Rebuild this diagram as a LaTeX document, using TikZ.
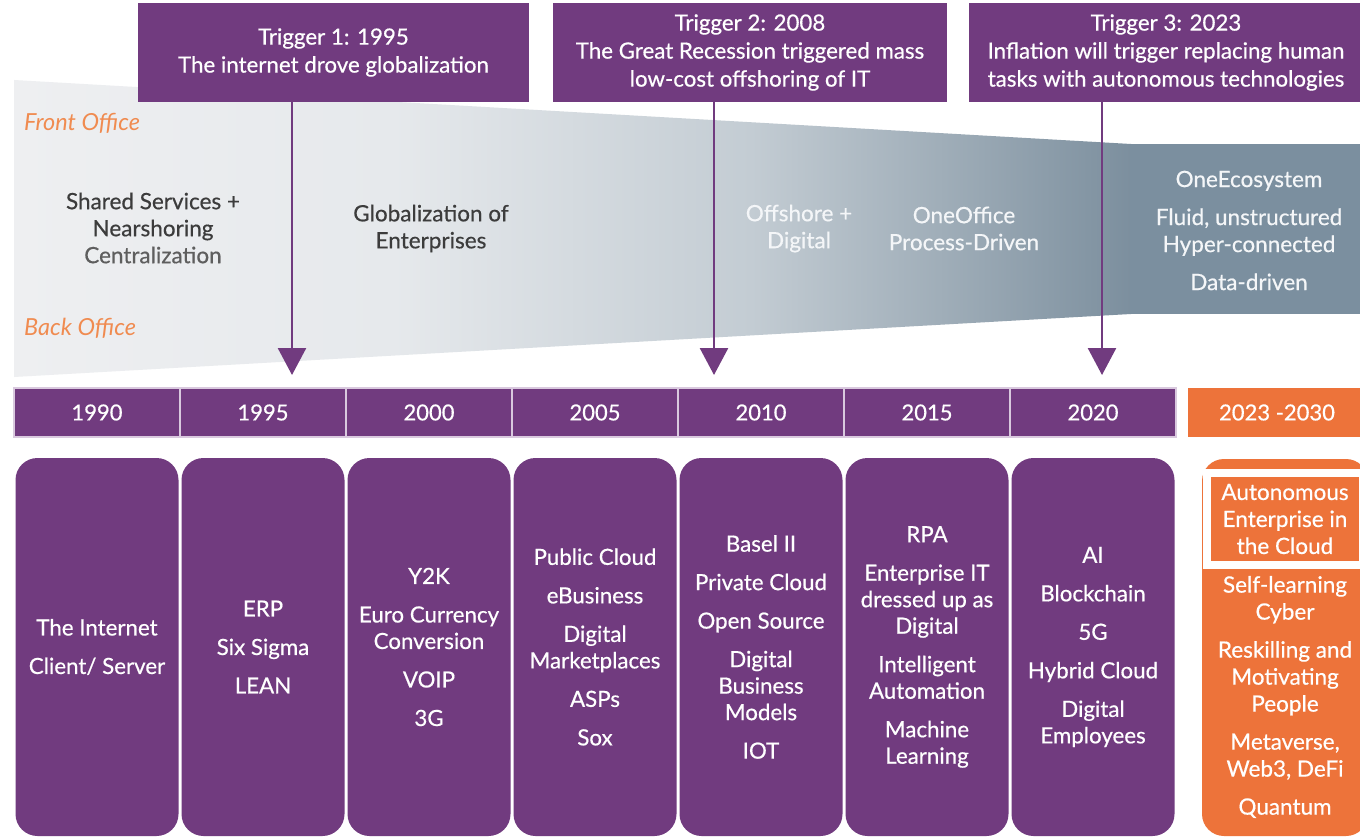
\documentclass[tikz,border=0pt]{standalone}
\usepackage{fontspec}
\setmainfont{Lato}[FakeBold=0.5]
\newfontfamily\thinf{Lato}
\usetikzlibrary{arrows.meta}
\definecolor{purp}{HTML}{713B7F}
\definecolor{lav}{HTML}{D9C9DE}
\definecolor{orng}{HTML}{ED733A}
\definecolor{offc}{HTML}{F08B50}
\definecolor{slate}{HTML}{7B8F9F}
\definecolor{dtext}{HTML}{3C3C3C}
\definecolor{cent}{HTML}{5E5E5E}
\definecolor{ltext}{HTML}{F4F6F8}
\definecolor{fa}{HTML}{EEEFF1}
\definecolor{fb}{HTML}{E6E9EC}
\definecolor{fc}{HTML}{C3CCD3}
\definecolor{fd}{HTML}{7C8F9E}
\pgfdeclarehorizontalshading{funnel}{100bp}{color(0bp)=(fa); color(25bp)=(fa); color(42bp)=(fb); color(58bp)=(fc); color(75bp)=(fd); color(100bp)=(fd)}
\newcommand\fsz[2]{\fontsize{#1}{#2}\selectfont}
\tikzset{
  trig/.style={fill=purp, text=white, minimum height=99, inner sep=0, align=center, font={\fsz{22.3}{28}}},
  yr/.style={fill=purp, draw=lav, line width=1.2, minimum width=166, minimum height=49, inner sep=0, text=white, font={\fsz{22}{26}}},
  tbox/.style={fill=purp, rounded corners=22, minimum width=163, minimum height=378, inner sep=0, text=white, align=center, font={\fsz{22.3}{26.5}}},
  obox/.style={fill=orng, rounded corners=22, minimum width=166, minimum height=377, inner sep=0},
  otext/.style={text=white, align=center, font={\fsz{22.5}{27}}},
  trarrow/.style={draw=purp, line width=2.6, -{Triangle[width=28pt,length=27pt]}},
  flabel/.style={align=center, font={\fsz{22.5}{27}}, inner sep=0},
  office/.style={text=offc, anchor=west, inner sep=0, font={\fsz{23.5}{26}\thinf\itshape}}
}
\begin{document}
\begin{tikzpicture}[x=1pt,y=-1pt]
\useasboundingbox[fill=white] (0,0) rectangle (1360,837);
% funnel
\shade[shading=funnel] (14,80) -- (1131,144) -- (1131,314) -- (14,377) -- cycle;
\fill[slate] (1130,144) rectangle (1362,314);
\node[office] (fo) at (24,123) {Front Office};
\node[office] (bo) at (24,328) {Back Office};
\node[flabel, text=dtext] (ss) at (153,228) {Shared Services +\\Nearshoring\\\textcolor{cent}{Centralization}};
\node[flabel, text=dtext] (ge) at (431,228.5) {Globalization of\\Enterprises};
\node[flabel, text=ltext] (od) at (799,228.5) {Offshore +\\Digital};
\node[flabel, text=ltext] (oo) at (964,228.5) {OneOffice\\Process-Driven};
\node[flabel, text=ltext] (oe) at (1249,230.5) {OneEcosystem\\[11pt]Fluid, unstructured\\Hyper-connected\\[11pt]Data-driven};
% triggers
\node[trig, minimum width=391] (t1) at (333.5,52.5) {Trigger 1: 1995\\The internet drove globalization};
\node[trig, minimum width=394] (t2) at (750,52.5) {Trigger 2: 2008\\The Great Recession triggered mass\\low-cost offshoring of IT};
\node[trig, minimum width=394] (t3) at (1166,52.5) {Trigger 3: 2023\\Inflation will trigger replacing human\\tasks with autonomous technologies};
\coordinate (a1) at (292,375);
\coordinate (a2) at (714,375);
\coordinate (a3) at (1102,375);
\draw[trarrow] (t1.south -| a1) -- (a1);
\draw[trarrow] (t2.south -| a2) -- (a2);
\draw[trarrow] (t3.south -| a3) -- (a3);
% years
\node[yr] (y1) at (97,412.5) {1990};
\node[yr] (y2) at (263,412.5) {1995};
\node[yr] (y3) at (429,412.5) {2000};
\node[yr] (y4) at (595,412.5) {2005};
\node[yr] (y5) at (761,412.5) {2010};
\node[yr] (y6) at (927,412.5) {2015};
\node[yr] (y7) at (1093,412.5) {2020};
\node[yr, fill=orng, draw=none, minimum width=178] (y8) at (1277,412.5) {2023 -2030};
% boxes
\node[tbox] (b1) at (97,647) {The Internet\\[12pt]Client/ Server};
\node[tbox] (b2) at (263,647) {ERP\\[12pt]Six Sigma\\[12pt]LEAN};
\node[tbox] (b3) at (429,647) {Y2K\\[12pt]Euro Currency\\Conversion\\[12pt]VOIP\\[12pt]3G};
\node[tbox] (b4) at (595,647) {Public Cloud\\[12pt]eBusiness\\[12pt]Digital\\Marketplaces\\[12pt]ASPs\\[12pt]Sox};
\node[tbox] (b5) at (761,647) {Basel II\\[12pt]Private Cloud\\[12pt]Open Source\\[12pt]Digital\\Business\\Models\\[12pt]IOT};
\node[tbox] (b6) at (927,647) {RPA\\[12pt]Enterprise IT\\dressed up as\\Digital\\[12pt]Intelligent\\Automation\\[12pt]Machine\\Learning};
\node[tbox] (b7) at (1093,647) {AI\\[12pt]Blockchain\\[12pt]5G\\[12pt]Hybrid Cloud\\[12pt]Digital\\Employees};
% orange column
\node[obox] (b8) at (1285,647.5) {};
\node[draw=white, line width=8, fill=orng, minimum width=156, minimum height=92, inner sep=0, otext] (auto) at (1285,519) {Autonomous\\Enterprise in\\the Cloud};
\node[otext] (list) at (1285,697) {Self-learning\\Cyber\\[11pt]Reskilling and\\Motivating\\People\\[11pt]Metaverse,\\Web3, DeFi\\[11pt]Quantum};
\end{tikzpicture}
\end{document}
